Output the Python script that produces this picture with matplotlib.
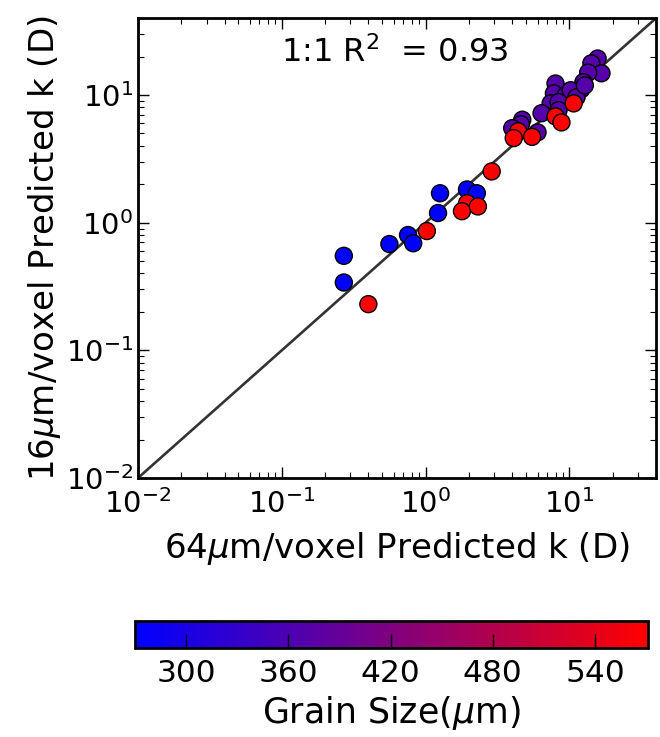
import matplotlib
matplotlib.use("Agg")
import matplotlib.pyplot as plt
from matplotlib.colors import LinearSegmentedColormap
import numpy as np

# Permeability predicted at 64 um/voxel (x) and 16 um/voxel (y), in darcy
k64 = [15.7, 14.2, 16.7, 13.5, 12.5, 12.1, 8.0, 7.8, 7.4, 9.4, 10.2, 11.2, 8.4, 8.4,
       6.4, 4.7, 4.6, 4.0, 6.0, 12.8,
       1.26, 1.22, 1.94, 2.27, 0.755, 0.82, 0.56, 0.27, 0.27,
       10.7, 8.0, 8.8, 4.4, 4.1, 5.5, 2.88, 1.94, 1.79, 2.31, 1.02, 0.40]
k16 = [19.3, 17.7, 14.8, 15.0, 12.6, 11.1, 12.3, 10.3, 8.6, 9.9, 10.9, 9.6, 8.8, 7.6,
       7.2, 6.4, 5.9, 5.5, 5.1, 11.9,
       1.70, 1.19, 1.82, 1.70, 0.80, 0.69, 0.68, 0.55, 0.34,
       8.6, 6.8, 6.1, 5.2, 4.6, 4.7, 2.52, 1.42, 1.23, 1.34, 0.86, 0.23]
grain = [372] * 20 + [270] * 9 + [571] * 12

cbar_ticks = [300, 360, 420, 480, 540]
r2_text = "1:1 R$^2$  = 0.93"

cmap = LinearSegmentedColormap.from_list("blue_red", ["#0000ff", "#ff0000"])

fig = plt.figure(figsize=(6.6, 7.37), dpi=100)
ax = fig.add_axes([0.209, 0.3514, 0.785, 0.624])

lims = (0.01, 40)
ax.plot(lims, lims, color="#333333", lw=1.9, zorder=1)
sc = ax.scatter(k64, k16, c=grain, cmap=cmap, vmin=min(grain), vmax=max(grain),
                s=150, edgecolors="black", linewidths=1.0, zorder=2)

ax.set_xscale("log")
ax.set_yscale("log")
ax.set_xlim(lims)
ax.set_ylim(lims)

ax.tick_params(which="both", direction="in", top=True, right=True, labelsize=21)
ax.tick_params(which="major", length=8, width=1)
ax.tick_params(which="minor", length=4, width=0.8)
ax.tick_params(axis="x", pad=8)
for sp in ax.spines.values():
    sp.set_linewidth(2.0)

ax.set_xlabel("64$\\mu$m/voxel Predicted k (D)", fontsize=24.5, labelpad=8)
ax.set_ylabel("16$\\mu$m/voxel Predicted k (D)", fontsize=24.5, labelpad=2)
ax.text(0.496, 0.926, r2_text, transform=ax.transAxes, ha="center", va="center",
        fontsize=23)

cax = fig.add_axes([0.2045, 0.1208, 0.777, 0.0366])
cb = fig.colorbar(sc, cax=cax, orientation="horizontal", ticks=cbar_ticks)
cb.outline.set_linewidth(2.0)
cax.tick_params(direction="in", length=10, width=1, labelsize=22.5, pad=8)
cb.set_label("Grain Size($\\mu$m)", fontsize=25, labelpad=4)

fig.savefig("out.png", dpi=100)
